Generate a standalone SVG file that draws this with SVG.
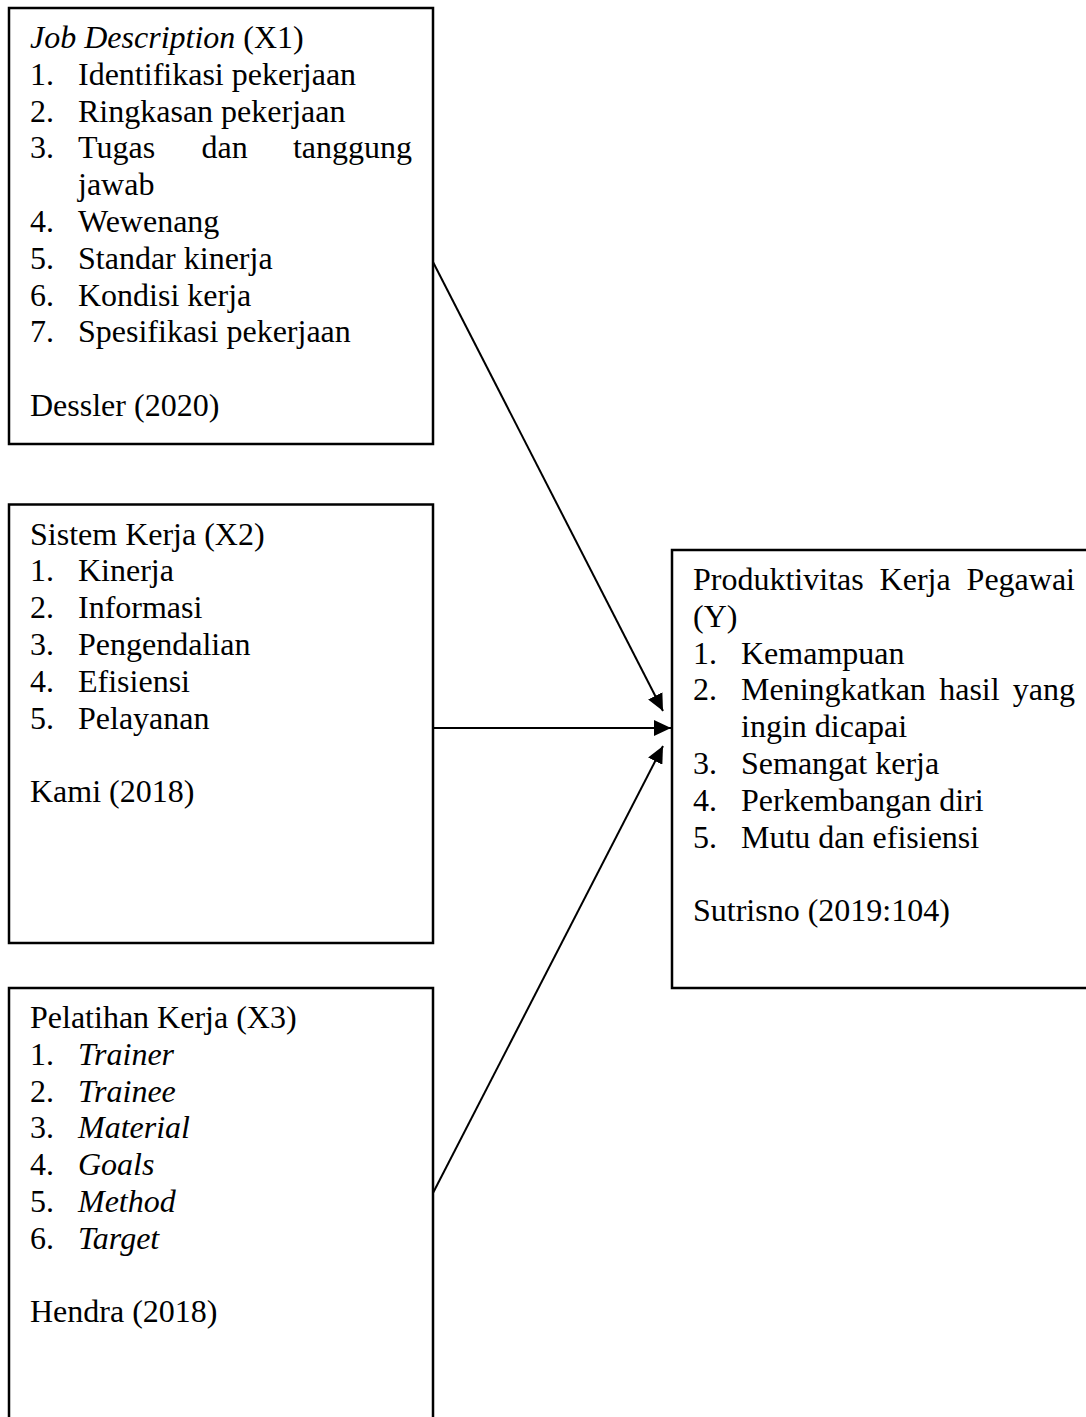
<svg xmlns="http://www.w3.org/2000/svg" width="1086" height="1417" viewBox="0 0 1086 1417">
<style>
  text { font-family: "Liberation Serif", "Times New Roman", serif; font-size: 32px; fill: #000; }
  .i { font-style: italic; }
  .box { fill: #fff; stroke: #000; stroke-width: 2.5; }
  .conn { stroke: #000; stroke-width: 2; fill: none; }
</style>
<defs>
  <marker id="arr" markerUnits="userSpaceOnUse" markerWidth="18" markerHeight="16" refX="17" refY="8" orient="auto" viewBox="0 0 18 16">
    <path d="M0,0 L17,8 L0,16 z" fill="#000"/>
  </marker>
</defs>
<rect width="1086" height="1417" fill="#fff"/>

<g id="x1">
  <rect class="box" x="9" y="8" width="424" height="436"/>
  <text x="30" y="48"><tspan class="i">Job Description</tspan> (X1)</text>
  <text x="30" y="84.8">1.</text><text x="78" y="84.8">Identifikasi pekerjaan</text>
  <text x="30" y="121.6">2.</text><text x="78" y="121.6">Ringkasan pekerjaan</text>
  <text x="30" y="158.4">3.</text><text x="78" y="158.4">Tugas</text><text x="201.5" y="158.4">dan</text><text x="412" y="158.4" text-anchor="end">tanggung</text>
  <text x="78" y="195.2">jawab</text>
  <text x="30" y="232">4.</text><text x="78" y="232">Wewenang</text>
  <text x="30" y="268.8">5.</text><text x="78" y="268.8">Standar kinerja</text>
  <text x="30" y="305.6">6.</text><text x="78" y="305.6">Kondisi kerja</text>
  <text x="30" y="342.4">7.</text><text x="78" y="342.4">Spesifikasi pekerjaan</text>
  <text x="30" y="416">Dessler (2020)</text>
</g>

<g id="x2">
  <rect class="box" x="9" y="504.5" width="424" height="438.5"/>
  <text x="30" y="544.5">Sistem Kerja (X2)</text>
  <text x="30" y="581.3">1.</text><text x="78" y="581.3">Kinerja</text>
  <text x="30" y="618.1">2.</text><text x="78" y="618.1">Informasi</text>
  <text x="30" y="654.9">3.</text><text x="78" y="654.9">Pengendalian</text>
  <text x="30" y="691.7">4.</text><text x="78" y="691.7">Efisiensi</text>
  <text x="30" y="728.5">5.</text><text x="78" y="728.5">Pelayanan</text>
  <text x="30" y="802.1">Kami (2018)</text>
</g>

<g id="x3">
  <rect class="box" x="9" y="988" width="424" height="500"/>
  <text x="30" y="1028">Pelatihan Kerja (X3)</text>
  <text x="30" y="1064.8">1.</text><text class="i" x="78" y="1064.8">Trainer</text>
  <text x="30" y="1101.6">2.</text><text class="i" x="78" y="1101.6">Trainee</text>
  <text x="30" y="1138.4">3.</text><text class="i" x="78" y="1138.4">Material</text>
  <text x="30" y="1175.2">4.</text><text class="i" x="78" y="1175.2">Goals</text>
  <text x="30" y="1212">5.</text><text class="i" x="78" y="1212">Method</text>
  <text x="30" y="1248.8">6.</text><text class="i" x="78" y="1248.8">Target</text>
  <text x="30" y="1322.4">Hendra (2018)</text>
</g>

<g id="y">
  <rect class="box" x="672" y="550" width="424" height="438"/>
  <text x="693" y="590">Produktivitas</text><text x="879.6" y="590">Kerja</text><text x="1075" y="590" text-anchor="end">Pegawai</text>
  <text x="693" y="626.8">(Y)</text>
  <text x="693" y="663.6">1.</text><text x="741" y="663.6">Kemampuan</text>
  <text x="693" y="700.4">2.</text><text x="741" y="700.4">Meningkatkan</text><text x="939.2" y="700.4">hasil</text><text x="1075" y="700.4" text-anchor="end">yang</text>
  <text x="741" y="737.2">ingin dicapai</text>
  <text x="693" y="774">3.</text><text x="741" y="774">Semangat kerja</text>
  <text x="693" y="810.8">4.</text><text x="741" y="810.8">Perkembangan diri</text>
  <text x="693" y="847.6">5.</text><text x="741" y="847.6">Mutu dan efisiensi</text>
  <text x="693" y="921.2">Sutrisno (2019:104)</text>
</g>

<g id="connectors">
  <line class="conn" x1="433" y1="262" x2="663" y2="711" marker-end="url(#arr)"/>
  <line class="conn" x1="433" y1="728" x2="671" y2="728" marker-end="url(#arr)"/>
  <line class="conn" x1="433" y1="1193" x2="663" y2="746" marker-end="url(#arr)"/>
</g>
</svg>
